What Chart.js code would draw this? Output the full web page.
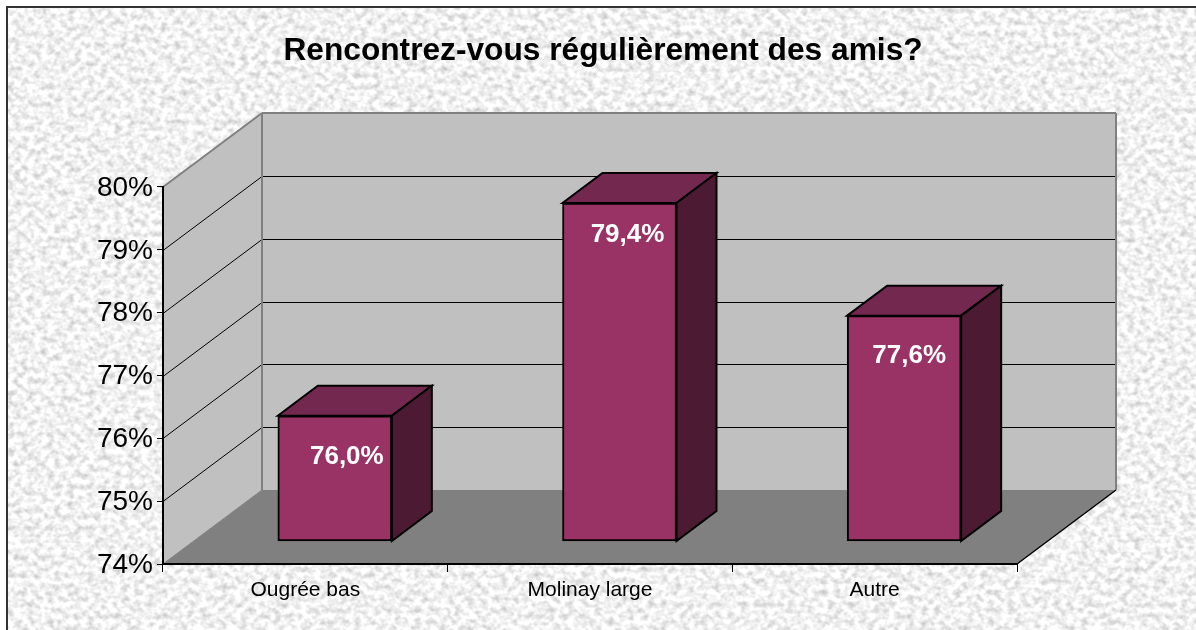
<!DOCTYPE html>
<html lang="fr"><head><meta charset="utf-8">
<script src="https://cdn.jsdelivr.net/npm/chart.js@4"></script>
<style>
html,body{margin:0;padding:0;width:1196px;height:630px;overflow:hidden;background:#fff}
#paper{position:absolute;left:6px;top:6px;width:1300px;height:800px;border:2px solid #333;
background-image:url("data:image/svg+xml,%3Csvg xmlns='http://www.w3.org/2000/svg' width='1300' height='800'%3E%3Cfilter id='n' x='0' y='0' width='100%25' height='100%25' color-interpolation-filters='sRGB'%3E%3CfeTurbulence type='fractalNoise' baseFrequency='0.15 0.17' numOctaves='2' seed='7'/%3E%3CfeColorMatrix values='0.42 0 0 0 0.735 0.42 0 0 0 0.735 0.42 0 0 0 0.735 0 0 0 0 1'/%3E%3CfeGaussianBlur stdDeviation='0.7'/%3E%3C/filter%3E%3Crect width='1300' height='800' filter='url(%23n)'/%3E%3C/svg%3E");}
canvas{position:absolute;left:0;top:0}
</style></head><body>
<div id="paper"></div>
<canvas id="c" width="1196" height="630"></canvas>
<script>
const chartTitle = "Rencontrez-vous régulièrement des amis?";
const categories = ["Ougrée bas", "Molinay large", "Autre"];
const values = [76.0, 79.4, 77.6];
const axisMin = 74, axisMax = 80, axisStep = 1;

const FONT = "'Liberation Sans', Arial, sans-serif";
const WALL = {dx: 99, dy: -74};
const BAR = {dx: 40, dy: -30, shift: 29.5};
const LABEL_OFF = [{x: 12, y: 41}, {x: 8, y: 32}, {x: 5, y: 40}];

function poly(ctx, pts, fill, stroke, lw) {
  ctx.beginPath();
  pts.forEach((p, i) => i ? ctx.lineTo(p[0], p[1]) : ctx.moveTo(p[0], p[1]));
  ctx.closePath();
  if (fill) { ctx.fillStyle = fill; ctx.fill(); }
  if (stroke) { ctx.strokeStyle = stroke; ctx.lineWidth = lw; ctx.lineJoin = 'miter'; ctx.stroke(); }
}
function seg(ctx, a, b, c, w) {
  ctx.beginPath(); ctx.moveTo(a[0], a[1]); ctx.lineTo(b[0], b[1]);
  ctx.strokeStyle = c; ctx.lineWidth = w; ctx.stroke();
}

const depthPlugin = {
  id: 'depth',
  afterLayout(chart) {
    const s = chart.scales.xBar;
    s.left += BAR.shift; s.right += BAR.shift; s.configure();
  },
  beforeDraw(chart) {
    const ctx = chart.ctx, a = chart.chartArea, y = chart.scales.y;
    const {dx, dy} = WALL;
    const L = a.left, R = a.right, T = y.getPixelForValue(axisMax), B = y.getPixelForValue(axisMin);
    ctx.save();
    poly(ctx, [[L, T], [L + dx, T + dy], [L + dx, B + dy], [L, B]], '#c0c0c0');
    poly(ctx, [[L + dx, T + dy], [R + dx, T + dy], [R + dx, B + dy], [L + dx, B + dy]], '#c0c0c0');
    poly(ctx, [[L, B], [L + dx, B + dy], [R + dx, B + dy], [R, B]], '#808080');
    for (let v = axisMin + axisStep; v < axisMax; v += axisStep) {
      const p = Math.round(y.getPixelForValue(v)) + 0.5;
      seg(ctx, [L, p], [L + dx, p + dy], '#000', 1);
      seg(ctx, [L + dx, p + dy], [R + dx, p + dy], '#000', 1);
    }
    seg(ctx, [L, T], [L + dx, T + dy], '#808080', 2);
    seg(ctx, [L + dx, T + dy], [R + dx, T + dy], '#808080', 2);
    seg(ctx, [L + dx, T + dy], [L + dx, B + dy], '#808080', 2);
    seg(ctx, [R + dx, T + dy], [R + dx, B + dy], '#808080', 2);
    seg(ctx, [L, B], [L + dx, B + dy], '#808080', 1);
    seg(ctx, [R, B], [R + dx, B + dy], '#000', 1.5);
    ctx.restore();
  },
  afterDatasetsDraw(chart) {
    const ctx = chart.ctx, meta = chart.getDatasetMeta(0);
    const {dx, dy} = BAR;
    ctx.save();
    meta.data.forEach((b, i) => {
      const p = b.getProps(['x', 'y', 'base', 'width'], true);
      const l = p.x - p.width / 2, r = p.x + p.width / 2, t = p.y, m = p.base;
      poly(ctx, [[l, t], [l + dx, t + dy], [r + dx, t + dy], [r, t]], '#732850', '#000', 2);
      poly(ctx, [[r, t], [r + dx, t + dy], [r + dx, m + dy], [r, m]], '#4d1a33', '#000', 2);
      ctx.fillStyle = '#fff';
      ctx.font = "bold 26px " + FONT;
      ctx.textAlign = 'center'; ctx.textBaseline = 'middle';
      ctx.fillText(values[i].toFixed(1).replace('.', ',') + '%', p.x + LABEL_OFF[i].x, t + LABEL_OFF[i].y);
    });
    ctx.restore();
  }
};

new Chart(document.getElementById('c'), {
  type: 'bar',
  plugins: [depthPlugin],
  data: {
    labels: categories,
    datasets: [{
      data: values,
      base: axisMin,
      xAxisID: 'xBar', yAxisID: 'yBar',
      backgroundColor: '#993366',
      borderColor: '#000', borderWidth: 2, borderSkipped: false,
      barThickness: 114
    }]
  },
  options: {
    responsive: false, animation: false, events: [],
    layout: {padding: {left: 10, right: 0, top: 0, bottom: 0}},
    plugins: {
      legend: {display: false}, tooltip: {enabled: false},
      title: {display: true, text: chartTitle, color: '#000',
        font: {family: FONT, size: 31.7, weight: 'bold', lineHeight: 1.2},
        padding: {top: 32, bottom: 116.96}}
    },
    scales: {
      x: {
        type: 'category', position: 'bottom',
        afterFit(s) { s.height = 66; },
        border: {color: '#000', width: 2},
        grid: {display: true, drawOnChartArea: false, drawTicks: true, tickLength: 8, color: '#000', offset: true},
        ticks: {color: '#000', font: {family: FONT, size: 21}, padding: 6, maxRotation: 0, autoSkip: false}
      },
      xBar: {type: 'category', position: 'bottom', display: false, grid: {display: false}},
      y: {
        position: 'left', min: axisMin, max: axisMax,
        afterFit(s) { s.width = 153; },
        border: {color: '#000', width: 2},
        grid: {drawOnChartArea: false, tickLength: 6, color: '#000'},
        ticks: {stepSize: axisStep, color: '#000', font: {family: FONT, size: 28}, padding: 4, labelOffset: 1,
          callback: v => v + '%'}
      },
      yBar: {
        position: 'right', min: 73.6326, max: 79.655,
        afterFit(s) { s.width = 179; },
        border: {display: false}, grid: {display: false}, ticks: {display: false}
      }
    }
  }
});
</script>
</body></html>
